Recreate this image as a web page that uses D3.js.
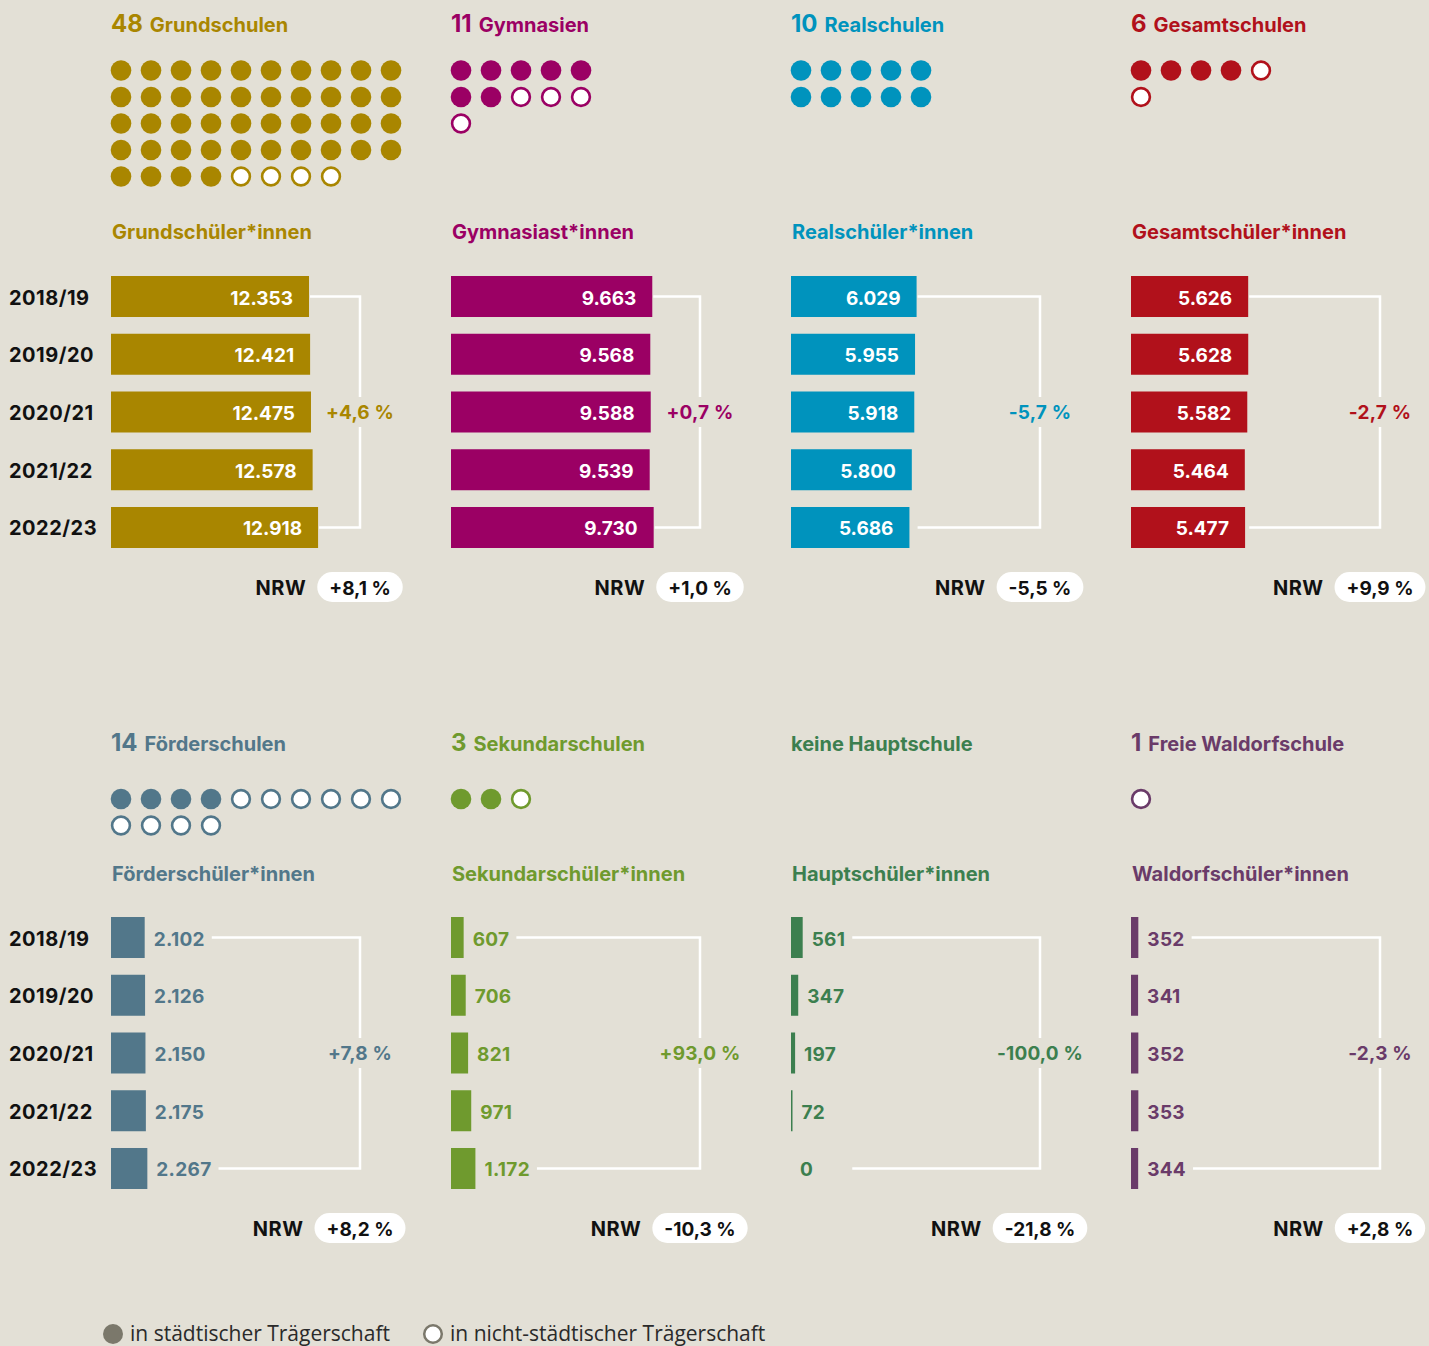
<!DOCTYPE html>
<html>
<head>
<meta charset="utf-8">
<script src="https://cdn.jsdelivr.net/npm/d3@7"></script>
<style>
  body { margin: 0; background: #e3e0d6; }
  svg { display: block; font-family: Inter, "Noto Sans", sans-serif; }
</style>
</head>
<body>
<svg id="chart" width="1429" height="1346">
  <g id="panels"></g>
  <g id="legend"></g>
</svg>
<script>
// school years shown in every panel
var years = ["2018/19", "2019/20", "2020/21", "2021/22", "2022/23"];

// school types, number of schools, of which run by the city
var schoolNames = ["Grundschulen", "Gymnasien", "Realschulen", "Gesamtschulen",
  "Förderschulen", "Sekundarschulen", "Hauptschule", "Freie Waldorfschule"];
var schoolCounts = [48, 11, 10, 6, 14, 3, 0, 1];
var cityCounts = [44, 7, 10, 4, 4, 2, 0, 0];

var pupilLabels = ["Grundschüler*innen", "Gymnasiast*innen", "Realschüler*innen",
  "Gesamtschüler*innen", "Förderschüler*innen", "Sekundarschüler*innen",
  "Hauptschüler*innen", "Waldorfschüler*innen"];

// pupils per year, 2018/19 .. 2022/23
var grundschule = [12353, 12421, 12475, 12578, 12918];
var gymnasium = [9663, 9568, 9588, 9539, 9730];
var realschule = [6029, 5955, 5918, 5800, 5686];
var gesamtschule = [5626, 5628, 5582, 5464, 5477];
var foerderschule = [2102, 2126, 2150, 2175, 2267];
var sekundarschule = [607, 706, 821, 971, 1172];
var hauptschule = [561, 347, 197, 72, 0];
var waldorfschule = [352, 341, 352, 353, 344];
var pupils = [grundschule, gymnasium, realschule, gesamtschule,
  foerderschule, sekundarschule, hauptschule, waldorfschule];

// change over the period, city and NRW
var changeCity = ["+4,6 %", "+0,7 %", "-5,7 %", "-2,7 %", "+7,8 %", "+93,0 %", "-100,0 %", "-2,3 %"];
var changeNRW = ["+8,1 %", "+1,0 %", "-5,5 %", "+9,9 %", "+8,2 %", "-10,3 %", "-21,8 %", "+2,8 %"];

var legendLabels = ["in städtischer Trägerschaft", "in nicht-städtischer Trägerschaft"];

var colors = ["#a98600", "#9b0064", "#0093bd", "#b1111b", "#52778a", "#6f9a2e", "#3c7f4f", "#6a3b69"];

// layout of the two rows of panels
var rows = [
  {titleY: 31.5, dotsY: 70.5, subY: 239, barsY: 276, labelsInside: true},
  {titleY: 750.5, dotsY: 799, subY: 880.5, barsY: 917, labelsInside: false}
];
var colX = [111, 451, 791, 1131];
var bracketOffset = 249;
var dotsPerRow = [10, 5, 5, 5, 10, 5, 5, 5];

var de = d3.formatLocale({decimal: ",", thousands: ".", grouping: [3], currency: ["", "€"]});
var fmt = de.format(",d");

var band = d3.scaleBand().domain(years).range([0, 272]).paddingInner(0.29).paddingOuter(0);

function create_panel (i){
  var row = rows[Math.floor(i / 4)];
  var x0 = colX[i % 4];
  var color = colors[i];
  var values = pupils[i];
  // first column is drawn with a smaller scale so grundschule fits
  var xScale = d3.scaleLinear().domain([0, 10000]).range([0, (i % 4 == 0) ? 160.3 : 208.3]);
  var g = d3.select("#panels").append("g");

  // title
  var title = g.append("text")
    .attr("x", x0)
    .attr("y", row.titleY)
    .attr("fill", color)
    .style("font-weight", 700);
  if (schoolCounts[i] > 0){
    title.append("tspan").text(schoolCounts[i]).style("font-size", "24px");
    title.append("tspan").text(schoolNames[i]).attr("dx", 7)
      .style("font-size", "20px");
  }
  else{
    title.append("tspan").text("keine " + schoolNames[i])
      .style("font-size", "20px");
  }

  // one dot per school
  var dots = d3.range(schoolCounts[i]);
  var n = dotsPerRow[i];
  g.selectAll("circle.dot")
    .data(dots)
    .enter()
    .append("circle")
    .attr("class", "dot")
    .attr("cx", function(d){ return x0 + 10 + (d % n) * 30; })
    .attr("cy", function(d){ return row.dotsY + Math.floor(d / n) * 26.5; })
    .attr("r", function(d){ return d < cityCounts[i] ? 10.3 : 8.9; })
    .attr("fill", function(d){ return d < cityCounts[i] ? color : "#fff"; })
    .attr("stroke", function(d){ return d < cityCounts[i] ? "none" : color; })
    .attr("stroke-width", 2.6);

  // subtitle
  g.append("text")
    .text(pupilLabels[i])
    .attr("x", x0 + 1)
    .attr("y", row.subY)
    .attr("fill", color)
    .style("font-size", "20px")
    .style("font-weight", 700);

  // year labels only in the first column
  if (i % 4 == 0){
    g.selectAll("text.year")
      .data(years)
      .enter()
      .append("text")
      .attr("class", "year")
      .text(function(d){ return d; })
      .attr("x", 9)
      .attr("y", function(d){ return row.barsY + band(d) + band.bandwidth() / 2 + 8; })
      .attr("fill", "#111")
      .style("font-size", "20px")
      .style("font-weight", 700)
      .style("letter-spacing", "0.5px");
  }

  // bars
  g.selectAll("rect.bar")
    .data(values)
    .enter()
    .append("rect")
    .attr("class", "bar")
    .attr("x", x0)
    .attr("y", function(d, j){ return row.barsY + band(years[j]); })
    .attr("width", function(d){ return xScale(d); })
    .attr("height", band.bandwidth())
    .attr("fill", color);

  // value labels, inside the bar in the top row, next to it below
  var labels = g.selectAll("text.value")
    .data(values)
    .enter()
    .append("text")
    .attr("class", "value")
    .text(function(d){ return fmt(d); })
    .attr("y", function(d, j){ return row.barsY + band(years[j]) + band.bandwidth() / 2 + 8; })
    .style("font-size", "19px")
    .style("font-weight", 700);
  if (row.labelsInside){
    labels.attr("x", function(d){ return x0 + xScale(d) - 16; })
      .attr("text-anchor", "end")
      .attr("fill", "#fff");
  }
  else{
    labels.attr("x", function(d){ return x0 + xScale(d) + 9; })
      .attr("fill", color)
      .style("letter-spacing", "0.3px");
  }

  // bracket from first to last year
  var bx = x0 + bracketOffset;
  var yTop = row.barsY + band(years[0]) + band.bandwidth() / 2;
  var yBot = row.barsY + band(years[4]) + band.bandwidth() / 2;
  var yMid = (yTop + yBot) / 2;
  var startTop, startBot;
  if (row.labelsInside){
    startTop = x0 + xScale(values[0]) + 1;
    startBot = x0 + xScale(values[4]) + 1;
  }
  else{
    var nodes = labels.nodes();
    startTop = x0 + xScale(values[0]) + 9 + nodes[0].getComputedTextLength() + 7;
    startBot = x0 + xScale(values[4]) + 9 + nodes[4].getComputedTextLength() + 7;
  }
  startBot = Math.max(startBot, startTop);
  var path = d3.path();
  path.moveTo(startTop, yTop);
  path.lineTo(bx, yTop);
  path.lineTo(bx, yMid - 15);
  path.moveTo(bx, yMid + 15);
  path.lineTo(bx, yBot);
  path.lineTo(startBot, yBot);
  g.append("path")
    .attr("d", path.toString())
    .attr("fill", "none")
    .attr("stroke", "#fff")
    .attr("stroke-width", 2.5);

  g.append("text")
    .text(changeCity[i])
    .attr("x", bx)
    .attr("y", yMid + 7)
    .attr("text-anchor", "middle")
    .attr("fill", color)
    .style("font-size", "19px")
    .style("font-weight", 700)
    .style("letter-spacing", "0.2px");

  // NRW comparison pill
  var pillY = yBot + 59.5;
  var pillText = g.append("text")
    .text(changeNRW[i])
    .attr("x", bx)
    .attr("y", pillY + 8)
    .attr("text-anchor", "middle")
    .attr("fill", "#111")
    .style("font-size", "19px")
    .style("font-weight", 700);
  var w = pillText.node().getComputedTextLength() + 24;
  g.insert("rect", function(){ return pillText.node(); })
    .attr("x", bx - w / 2)
    .attr("y", pillY - 15)
    .attr("width", w)
    .attr("height", 30)
    .attr("rx", 15)
    .attr("fill", "#fff");
  g.append("text")
    .text("NRW")
    .attr("x", bx - w / 2 - 11)
    .attr("y", pillY + 8)
    .attr("text-anchor", "end")
    .attr("fill", "#111")
    .style("font-size", "20px")
    .style("font-weight", 700)
    .style("letter-spacing", "0.5px");
}

function create_legend (){
  var legend = d3.select("#legend");
  var xs = [113, 433];
  for (var k = 0; k < legendLabels.length; k++){
    legend.append("circle")
      .attr("cx", xs[k])
      .attr("cy", 1334)
      .attr("r", k == 0 ? 10 : 8.8)
      .attr("fill", k == 0 ? "#7b786b" : "#fff")
      .attr("stroke", k == 0 ? "none" : "#7b786b")
      .attr("stroke-width", 2.5);
    legend.append("text")
      .text(legendLabels[k])
      .attr("x", xs[k] + 17)
      .attr("y", 1341)
      .attr("fill", "#2a2a2a")
      .style("font-family", "'Open Sans', sans-serif")
      .style("font-size", "21px");
  }
}

for (var i = 0; i < schoolNames.length; i++){
  create_panel(i);
}
create_legend();
</script>
</body>
</html>
